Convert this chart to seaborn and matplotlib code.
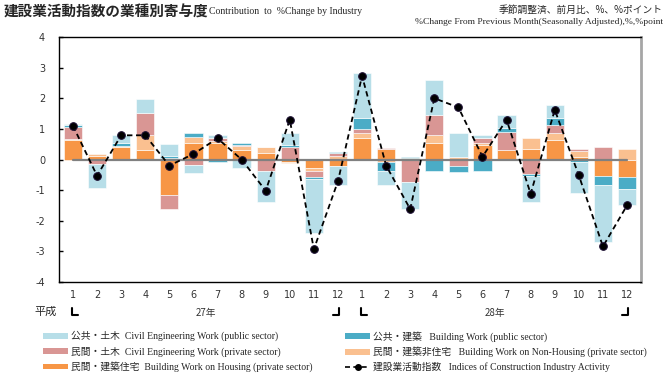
#Contribution to %change by industry (construction industry activity index)
import numpy as np
import matplotlib
matplotlib.use("Agg")
import matplotlib.pyplot as plt
import matplotlib.transforms as mtransforms
from matplotlib.patches import Patch
from matplotlib.lines import Line2D
from matplotlib.font_manager import FontProperties
import seaborn as sns


#Data: H27.1 - H28.12
months = [str(m) for m in range(1, 13)] * 2
years = ["27年", "28年"]

index_change = [1.10, -0.53, 0.79, 0.79, -0.20, 0.18, 0.69, 0.00, -1.02, 1.30, -2.93, -0.71,
                2.73, -0.20, -1.62, 2.00, 1.70, 0.09, 1.30, -1.12, 1.62, -0.52, -2.84, -1.50]

civil_public = [0.03, -0.77, 0.24, 0.46, 0.39, -0.26, 0.11, -0.27, -1.04, 0.40, -1.76, -0.62,
                1.50, -0.44, -0.89, 1.14, 0.77, 0.09, 0.41, -0.85, 0.44, -1.00, -1.86, -0.55]
civil_private = [0.40, -0.16, 0.00, 0.73, -0.47, -0.18, 0.09, 0.05, -0.36, 0.42, -0.22, 0.12,
                 0.11, 0.04, -0.72, 0.66, -0.20, 0.15, 0.59, -0.46, 0.25, 0.05, 0.41, 0.00]
housing = [0.65, 0.10, 0.42, 0.31, -1.15, 0.53, 0.55, 0.31, 0.20, -0.08, -0.27, -0.20,
           0.71, 0.35, 0.05, 0.53, 0.00, 0.47, 0.31, 0.33, 0.63, 0.08, -0.53, -0.58]
building_public = [0.05, 0.00, 0.11, 0.00, 0.06, 0.14, -0.07, 0.07, 0.02, 0.04, -0.07, 0.03,
                   0.36, -0.29, 0.03, -0.38, -0.22, -0.36, 0.14, -0.07, 0.22, -0.09, -0.31, -0.37]
nonhousing = [0.02, 0.08, 0.02, 0.48, 0.04, 0.21, 0.05, 0.12, 0.20, -0.05, -0.09, 0.10,
              0.16, -0.09, 0.00, 0.27, 0.09, 0.08, 0.00, 0.38, 0.25, 0.20, 0.00, 0.33]

labels = {
    "civil_public": "公共・土木  Civil Engineering Work (public sector)",
    "civil_private": "民間・土木  Civil Engineering Work (private sector)",
    "housing": "民間・建築住宅  Building Work on Housing (private sector)",
    "building_public": "公共・建築   Building Work (public sector)",
    "nonhousing": "民間・建築非住宅   Building Work on Non-Housing (private sector)",
    "index": "建設業活動指数   Indices of Construction Industry Activity",
}
colors = {
    "civil_public": "#B7DEE8",
    "civil_private": "#D99694",
    "housing": "#F79646",
    "building_public": "#4BACC6",
    "nonhousing": "#FAC090",
}


sns.set_theme(style="white")
plt.rcParams['font.family'] = ['DejaVu Sans', 'Noto Sans CJK JP']
plt.rcParams['axes.unicode_minus'] = False

W, H = 670, 378
def fx(px):
    return px / W
def fy(py):
    return 1 - py / H

fig = plt.figure(figsize=(6.7, 3.78), dpi=100)
ax = fig.add_axes([fx(59), fy(282), (641 - 59) / W, (282 - 37) / H])

x = np.arange(len(months))

#stack from the zero line outwards: positives up, negatives down
layers = [("housing", housing), ("nonhousing", nonhousing), ("civil_private", civil_private),
          ("building_public", building_public), ("civil_public", civil_public)]
pos_base = np.zeros(len(x))
neg_base = np.zeros(len(x))
for key, vals in layers:
    v = np.array(vals)
    for sign in (1, -1):
        mask = v * sign > 0
        base = pos_base if sign > 0 else neg_base
        ax.bar(x[mask], v[mask], bottom=base[mask], width=0.76, color=colors[key],
               edgecolor="white", linewidth=0.4, zorder=2)
    pos_base += np.where(v > 0, v, 0)
    neg_base += np.where(v < 0, v, 0)

#zero line
ax.plot([x[0], x[-1]], [0, 0], color="#808080", lw=1.6, zorder=3)

#index line
sns.lineplot(x=x, y=index_change, ax=ax, color="black", linestyle=(0, (3, 2)), lw=1.3,
             marker="o", markersize=5.5, markeredgecolor="#1c0f33", markerfacecolor="black",
             zorder=4)

ax.set_xlim(-0.58, len(x) - 0.42)
ax.set_ylim(-4, 4)
ax.set_yticks(range(-4, 5))
ax.set_xticks(x)
ax.set_xticklabels(months)
ax.tick_params(axis="x", length=0, pad=6, labelsize=7, labelcolor="#333333")
ax.tick_params(axis="y", direction="in", length=3, width=1, pad=10, labelsize=7,
               labelcolor="#333333", left=True, color="black")
for side in ["left", "top", "bottom"]:
    ax.spines[side].set_color("black")
    ax.spines[side].set_linewidth(1)
ax.spines["right"].set_color("#A6A6A6")
ax.spines["right"].set_linewidth(2)

#titles
fig.text(fx(4), fy(12), "建設業活動指数の業種別寄与度", fontsize=10.5, fontweight="bold",
         family="Noto Sans CJK JP", va="center")
fig.text(fx(209), fy(12), "Contribution  to  %Change by Industry", fontsize=7,
         family="Liberation Serif", va="center")
fig.text(fx(663), fy(10), "季節調整済、前月比、%、%ポイント", fontsize=7,
         family="Noto Sans CJK JP", va="center", ha="right")
fig.text(fx(663), fy(22), "%Change From Previous Month(Seasonally Adjusted),%,%point",
         fontsize=6.8, family="Liberation Serif", va="center", ha="right")

#era / year labels under the axis
blend = mtransforms.blended_transform_factory(ax.transData, fig.transFigure)
fig.text(fx(46), fy(312), "平成", fontsize=8, family="Noto Sans CJK JP", ha="center", va="center")
for i, yr in enumerate(years):
    start, end = x[i * 12], x[i * 12 + 11]
    ax.text((start + end) / 2, fy(313), yr, transform=blend, fontsize=7,
            family="Noto Sans CJK JP", ha="center", va="center", color="#333333")
    d = 0.2
    ax.add_line(Line2D([start - 0.05, start - 0.05, start + d], [fy(308), fy(315), fy(315)],
                       transform=blend, color="black", lw=1.5, clip_on=False))
    ax.add_line(Line2D([end - d, end + 0.05, end + 0.05], [fy(315), fy(315), fy(308)],
                       transform=blend, color="black", lw=1.5, clip_on=False))

#legend, two columns
leg_font = FontProperties(family=["Liberation Serif", "Noto Sans CJK JP"], size=7)
def patch(key):
    return Patch(facecolor=colors[key], edgecolor="none")
col1 = [patch("civil_public"), patch("civil_private"), patch("housing")]
col1_lab = [labels["civil_public"], labels["civil_private"], labels["housing"]]
col2 = [patch("building_public"), patch("nonhousing"),
        Line2D([], [], color="black", linestyle=(0, (3, 2)), lw=1.2, marker="o", markersize=4)]
col2_lab = [labels["building_public"], labels["nonhousing"], labels["index"]]
for handles, labs, left in [(col1, col1_lab, 43), (col2, col2_lab, 345)]:
    fig.legend(handles, labs, loc="upper left", bbox_to_anchor=(fx(left), fy(331)),
               frameon=False, prop=leg_font, handlelength=2.6, handleheight=0.55,
               handletextpad=0.3, labelspacing=0.5, borderpad=0, borderaxespad=0)

plt.savefig("out.png", dpi=100)
